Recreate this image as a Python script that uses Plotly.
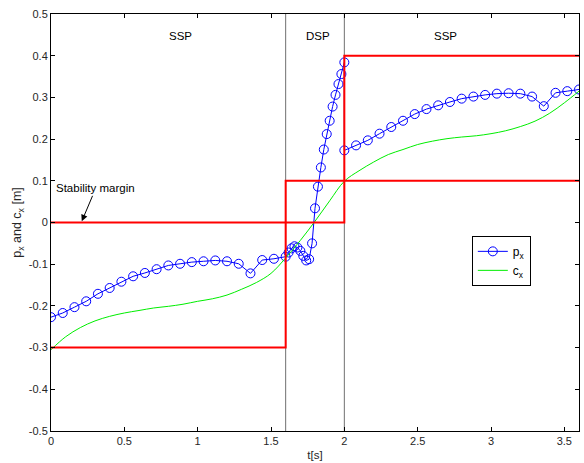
import plotly.graph_objects as go

# ---- data ----
px_t = [0.00, 0.08, 0.16, 0.24, 0.32, 0.40, 0.48, 0.56, 0.64, 0.72, 0.80, 0.88, 0.96, 1.04, 1.12, 1.20,
        1.28, 1.36, 1.44, 1.52, 1.60,
        1.62, 1.64, 1.66, 1.68, 1.70, 1.72, 1.74, 1.76, 1.78, 1.80, 1.82, 1.84, 1.86, 1.88, 1.90,
        1.92, 1.94, 1.96, 1.98, 2.00,
        2.00, 2.08, 2.16, 2.24, 2.32, 2.40, 2.48, 2.56, 2.64, 2.72, 2.80, 2.88, 2.96, 3.04, 3.12,
        3.20, 3.28, 3.36, 3.44, 3.52, 3.60]
px_v = [-0.227, -0.217, -0.203, -0.189, -0.171, -0.157, -0.142, -0.129, -0.121, -0.112, -0.103, -0.099,
        -0.095, -0.093, -0.091, -0.093, -0.099, -0.122, -0.090, -0.087, -0.082,
        -0.072, -0.062, -0.057, -0.060, -0.068, -0.080, -0.091, -0.088, -0.050, 0.034, 0.086, 0.132,
        0.175, 0.212, 0.244, 0.278, 0.306, 0.332, 0.356, 0.384,
        0.173, 0.185, 0.197, 0.213, 0.229, 0.244, 0.260, 0.272, 0.281, 0.289, 0.297, 0.302, 0.306,
        0.309, 0.310, 0.309, 0.302, 0.279, 0.311, 0.315, 0.319]

cx_t = [0.0, 0.1, 0.2, 0.3, 0.4, 0.5, 0.6, 0.7, 0.8, 0.9, 1.0, 1.1, 1.2, 1.3, 1.4, 1.5, 1.6, 1.7,
        1.8, 1.9, 2.0, 2.1, 2.2, 2.3, 2.4, 2.5, 2.6, 2.7, 2.8, 2.9, 3.0, 3.1, 3.2, 3.3, 3.4, 3.5, 3.6]
cx_v = [-0.305, -0.274, -0.252, -0.236, -0.225, -0.217, -0.211, -0.205, -0.201, -0.196, -0.189,
        -0.183, -0.174, -0.160, -0.144, -0.122, -0.085, -0.043, 0.003, 0.052, 0.099, 0.124, 0.145,
        0.163, 0.175, 0.187, 0.195, 0.201, 0.205, 0.208, 0.213, 0.220, 0.230, 0.243, 0.262, 0.287,
        0.315]

bound_a_t = [0.0, 2.0, 2.0, 3.6]
bound_a_v = [0.0, 0.0, 0.4, 0.4]
bound_b_t = [0.0, 1.6, 1.6, 3.6]
bound_b_v = [-0.3, -0.3, 0.1, 0.1]

phase_edges = [1.6, 2.0]
phase_names = ["SSP", "DSP", "SSP"]
phase_label_t = [0.88, 1.82, 2.69]
phase_label_v = 0.447

x_ticks = [0, 0.5, 1, 1.5, 2, 2.5, 3, 3.5]
x_ticktext = ["0", "0.5", "1", "1.5", "2", "2.5", "3", "3.5"]
y_ticks = [-0.5, -0.4, -0.3, -0.2, -0.1, 0, 0.1, 0.2, 0.3, 0.4, 0.5]
y_ticktext = ["-0.5", "-0.4", "-0.3", "-0.2", "-0.1", "0", "0.1", "0.2", "0.3", "0.4", "0.5"]

FONT = "Liberation Sans, Arial, sans-serif"

fig = go.Figure()

for xe in phase_edges:
    fig.add_trace(go.Scatter(x=[xe, xe], y=[-0.5, 0.5], mode="lines",
                             line=dict(color="#707070", width=1), showlegend=False,
                             hoverinfo="skip"))

fig.add_trace(go.Scatter(x=px_t, y=px_v, mode="lines+markers", name="p<sub>x</sub>",
                         line=dict(color="#0000ff", width=1),
                         marker=dict(symbol="circle-open", size=9, color="#0000ff",
                                     line=dict(width=1, color="#0000ff"))))
fig.add_trace(go.Scatter(x=cx_t, y=cx_v, mode="lines", name="c<sub>x</sub>",
                         line=dict(color="#00ee00", width=1, shape="spline")))

for bt, bv in ((bound_a_t, bound_a_v), (bound_b_t, bound_b_v)):
    fig.add_trace(go.Scatter(x=bt, y=bv, mode="lines", line=dict(color="#ff0000", width=2),
                             showlegend=False, hoverinfo="skip"))

for name, t in zip(phase_names, phase_label_t):
    fig.add_annotation(x=t, y=phase_label_v, text=name, showarrow=False,
                       font=dict(family=FONT, size=11.5, color="#000000"))

fig.add_annotation(x=0.21, y=0.003, ax=0.305, ay=0.082, axref="x", ayref="y",
                   text="Stability margin", showarrow=True, arrowhead=2, arrowsize=1.3,
                   arrowwidth=1, arrowcolor="#000000",
                   font=dict(family=FONT, size=11.5, color="#000000"))

axis_common = dict(showline=True, linecolor="#000000", linewidth=1, mirror="ticks",
                   ticks="inside", ticklen=4, tickcolor="#000000", showgrid=False,
                   zeroline=False, tickfont=dict(family=FONT, size=11, color="#262626"))

fig.update_xaxes(range=[0, 3.6], tickvals=x_ticks, ticktext=x_ticktext,
                 title=dict(text="t[s]", font=dict(family=FONT, size=11.5, color="#262626"),
                            standoff=4),
                 **axis_common)
fig.update_yaxes(range=[-0.5, 0.5], tickvals=y_ticks, ticktext=y_ticktext,
                 title=dict(text="p<sub>x</sub> and c<sub>x</sub> [m]",
                            font=dict(family=FONT, size=12.5, color="#262626"), standoff=4),
                 **axis_common)

fig.update_layout(
    width=584, height=463,
    margin=dict(l=51, r=5, t=14, b=32),
    paper_bgcolor="#ffffff", plot_bgcolor="#ffffff",
    font=dict(family=FONT, size=11, color="#000000"),
    legend=dict(x=0.797, y=0.468, xanchor="left", yanchor="top",
                bordercolor="#000000", borderwidth=1, bgcolor="#ffffff",
                font=dict(family=FONT, size=12, color="#000000"),
                itemwidth=30, tracegroupgap=2),
)

fig.write_html("out.html", config={"displayModeBar": False},
               post_script="document.body.style.margin='0';document.body.style.padding='0';")
